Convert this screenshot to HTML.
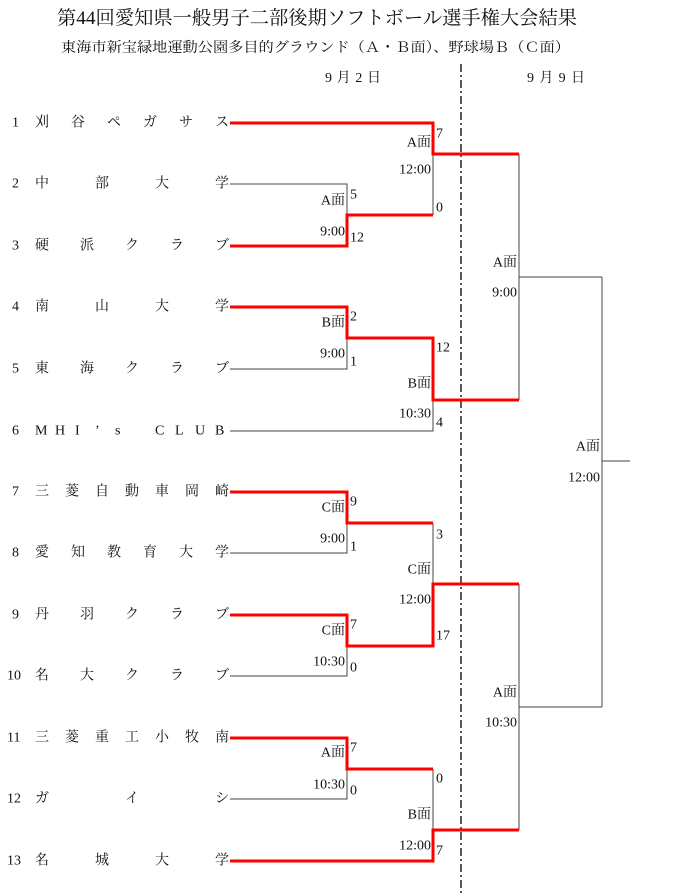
<!DOCTYPE html>
<html><head><meta charset="utf-8"><style>
html,body{margin:0;padding:0;background:#fff;}
svg{display:block;}
text{font-family:"Liberation Serif","Noto Serif CJK JP",serif;font-size:14px;fill:#111;}
.g{stroke:#444;stroke-width:1;fill:none;}
.r{stroke:#f00;stroke-width:3;fill:none;}
</style></head><body>
<svg width="700" height="893" viewBox="0 0 700 893">
<text x="57" y="24" textLength="520" lengthAdjust="spacingAndGlyphs" style="font-size:19px">第44回愛知県一般男子二部後期ソフトボール選手権大会結果</text>
<text x="61" y="52" textLength="509" lengthAdjust="spacingAndGlyphs" style="font-size:14px">東海市新宝緑地運動公園多目的グラウンド（Ａ・Ｂ面）、野球場Ｂ（Ｃ面）</text>
<text x="325" y="82" textLength="56" lengthAdjust="spacing">9月2日</text>
<text x="527" y="82" textLength="58" lengthAdjust="spacing">9月9日</text>
<line x1="461" y1="64" x2="461" y2="893" stroke="#222" stroke-width="1.5" stroke-dasharray="8,3,2,3"/>

<g dominant-baseline="central">
<text x="12" y="123">1</text><text y="123" x="35 71 107 143 179 215">刈谷ペガサス</text>
<text x="12" y="184">2</text><text y="184" x="35 95 155 215">中部大学</text>
<text x="12" y="246">3</text><text y="246" x="35 80 125 170 215">硬派クラブ</text>
<text x="12" y="307">4</text><text y="307" x="35 95 155 215">南山大学</text>
<text x="12" y="369">5</text><text y="369" x="35 80 125 170 215">東海クラブ</text>
<text x="12" y="431">6</text><text y="431" x="35 55 75 95 115 155 175 195 215">MHI’sCLUB</text>
<text x="12" y="492">7</text><text y="492" x="35 65 95 125 155 185 215">三菱自動車岡崎</text>
<text x="12" y="553">8</text><text y="553" x="35 71 107 143 179 215">愛知教育大学</text>
<text x="12" y="615">9</text><text y="615" x="35 80 125 170 215">丹羽クラブ</text>
<text x="7" y="676">10</text><text y="676" x="35 80 125 170 215">名大クラブ</text>
<text x="7" y="738">11</text><text y="738" x="35 65 95 125 155 185 215">三菱重工小牧南</text>
<text x="7" y="799">12</text><text y="799" x="35 125 215">ガイシ</text>
<text x="7" y="861">13</text><text y="861" x="35 95 155 215">名城大学</text>
</g>

<path class="g" d="M230 184H347V246 M230 369H347V307 M230 431H433V338 M433 215V154 M230 553H347V492 M433 523V646 M230 676H347V615 M230 799H347V738 M433 769V861 M519 154V400 M519 277H602 M519 584V830 M519 707H602 M602 277V707 M602 461H630"/>
<path class="r" d="M230 123H433V154H519"/>
<path class="r" d="M230 246H347V215H433"/>
<path class="r" d="M230 307H347V338H433V400H519"/>
<path class="r" d="M230 492H347V523H433"/>
<path class="r" d="M230 615H347V646H433V584H519"/>
<path class="r" d="M230 738H347V769H433"/>
<path class="r" d="M230 861H433V830H519"/>

<g dominant-baseline="central">
<text x="350" y="195">5</text><text x="350" y="238">12</text>
<text x="350" y="317">2</text><text x="350" y="362">1</text>
<text x="350" y="502">9</text><text x="350" y="547">1</text>
<text x="350" y="625">7</text><text x="350" y="668">0</text>
<text x="350" y="748">7</text><text x="350" y="791">0</text>
<text x="436" y="134">7</text><text x="436" y="208">0</text>
<text x="436" y="348">12</text><text x="436" y="423">4</text>
<text x="436" y="535">3</text><text x="436" y="636">17</text>
<text x="436" y="779">0</text><text x="436" y="851">7</text>
</g>
<g dominant-baseline="central" text-anchor="end">
<text x="345" y="201">A面</text><text x="345" y="232">9:00</text>
<text x="345" y="323">B面</text><text x="345" y="354">9:00</text>
<text x="345" y="508">C面</text><text x="345" y="539">9:00</text>
<text x="345" y="631">C面</text><text x="345" y="662">10:30</text>
<text x="345" y="753">A面</text><text x="345" y="785">10:30</text>
<text x="431" y="143">A面</text><text x="431" y="170">12:00</text>
<text x="431" y="384">B面</text><text x="431" y="414">10:30</text>
<text x="431" y="570">C面</text><text x="431" y="600">12:00</text>
<text x="431" y="815">B面</text><text x="431" y="846">12:00</text>
<text x="517" y="263">A面</text><text x="517" y="293">9:00</text>
<text x="517" y="693">A面</text><text x="517" y="723">10:30</text>
<text x="600" y="447">A面</text><text x="600" y="478">12:00</text>
</g>
</svg>
</body></html>
